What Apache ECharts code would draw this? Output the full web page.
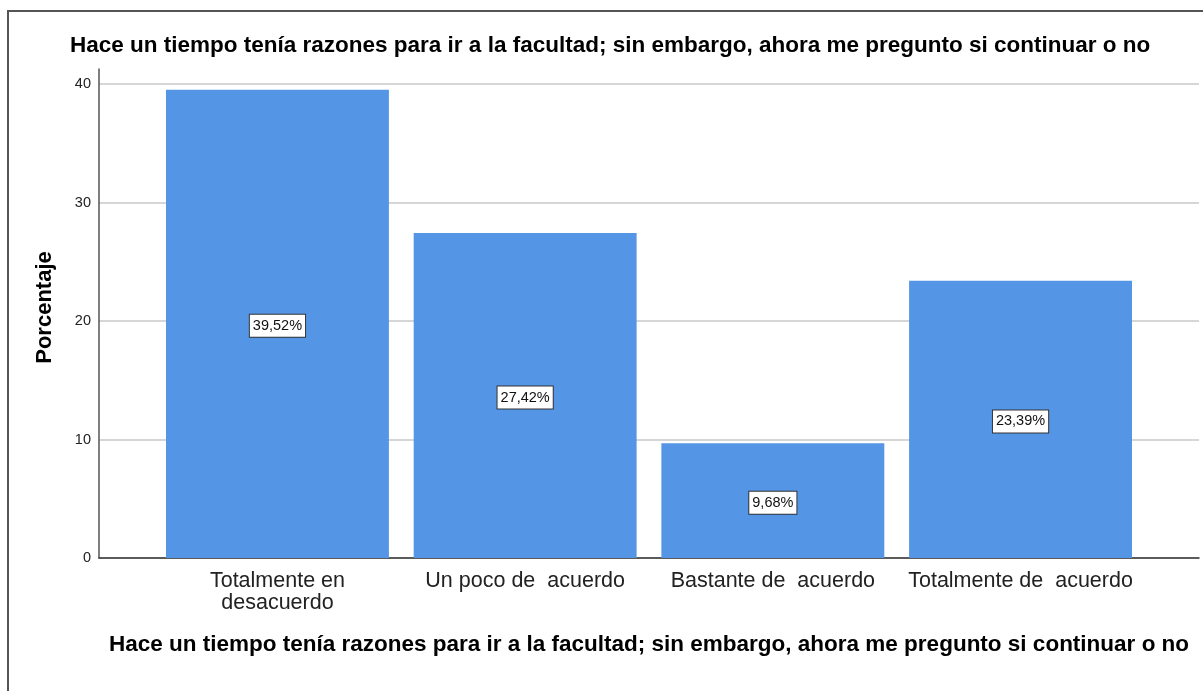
<!DOCTYPE html>
<html>
<head>
<meta charset="utf-8">
<script src="https://cdn.jsdelivr.net/npm/echarts@6/dist/echarts.min.js"></script>
<style>
  html, body { margin: 0; padding: 0; background: #fff; }
  #frame { position: absolute; left: 7px; top: 10px; width: 1210px; height: 700px; border-left: 2px solid #555; border-top: 2px solid #555; box-sizing: border-box; }
  #chart { position: absolute; left: 0; top: 0; width: 1203px; height: 691px; }
</style>
</head>
<body>
<div id="frame"></div>
<div id="chart"></div>
<script>
const titleText = 'Hace un tiempo tenía razones para ir a la facultad; sin embargo, ahora me pregunto si continuar o no';
const categories = ['Totalmente en\ndesacuerdo', 'Un poco de  acuerdo', 'Bastante de  acuerdo', 'Totalmente de  acuerdo'];
const percentValues = [39.52, 27.42, 9.68, 23.39];
const yTickValues = [0, 10, 20, 30, 40];
const yAxisName = 'Porcentaje';

const FONT = '"Liberation Sans", Arial, sans-serif';
const chart = echarts.init(document.getElementById('chart'), null, { renderer: 'canvas' });

const yScale = { min: 0, max: 41.27 };

chart.setOption({
  animation: false,
  backgroundColor: 'transparent',
  title: {
    text: titleText,
    left: 65,
    top: 29,
    textStyle: { fontFamily: FONT, fontSize: 22.5, fontWeight: 'bold', color: '#000' }
  },
  grid: [
    { left: 99, right: 4, top: 69, bottom: 133 },
    { left: 153.6, right: 58.6, top: 69, bottom: 133 }
  ],
  xAxis: [
    {
      gridIndex: 0, type: 'value', min: 0, max: 1,
      axisLine: { show: true, onZero: false, lineStyle: { color: '#333', width: 1.5 } },
      axisTick: { show: false }, axisLabel: { show: false }, splitLine: { show: false },
      name: titleText, nameLocation: 'middle', nameGap: 75,
      nameTextStyle: { fontFamily: FONT, fontSize: 22.5, fontWeight: 'bold', color: '#000' }
    },
    {
      gridIndex: 1, type: 'category', data: categories,
      axisLine: { show: false }, axisTick: { show: false },
      axisLabel: { interval: 0, margin: 12, fontFamily: FONT, fontSize: 21.5, color: '#222', lineHeight: 22 }
    }
  ],
  yAxis: [
    {
      gridIndex: 0, type: 'value', min: yScale.min, max: yScale.max,
      axisLine: { show: true, lineStyle: { color: '#555', width: 1.5 } },
      axisTick: { show: false, customValues: yTickValues },
      axisLabel: { customValues: yTickValues, fontFamily: FONT, fontSize: 14.5, color: '#222', margin: 8 },
      splitLine: { show: true, lineStyle: { color: '#c8c8c8', width: 1.5 } },
      name: yAxisName, nameLocation: 'middle', nameGap: 43,
      nameTextStyle: { fontFamily: FONT, fontSize: 22, fontWeight: 'bold', color: '#000', padding: [0, 0, 0, 12] }
    },
    {
      gridIndex: 1, type: 'value', min: yScale.min, max: yScale.max, show: false,
      splitLine: { show: false }
    }
  ],
  series: [{
    type: 'bar',
    xAxisIndex: 1, yAxisIndex: 1,
    data: percentValues,
    barCategoryGap: '10%',
    itemStyle: { color: '#5595e5' },
    label: {
      show: true, position: 'inside', offset: [0, 2],
      formatter: p => p.value.toFixed(2).replace('.', ',') + '%',
      backgroundColor: '#fff', borderColor: '#333', borderWidth: 1,
      padding: [4, 3, 3, 3],
      fontFamily: FONT, fontSize: 14.5, color: '#111'
    }
  }]
});
</script>
</body>
</html>
